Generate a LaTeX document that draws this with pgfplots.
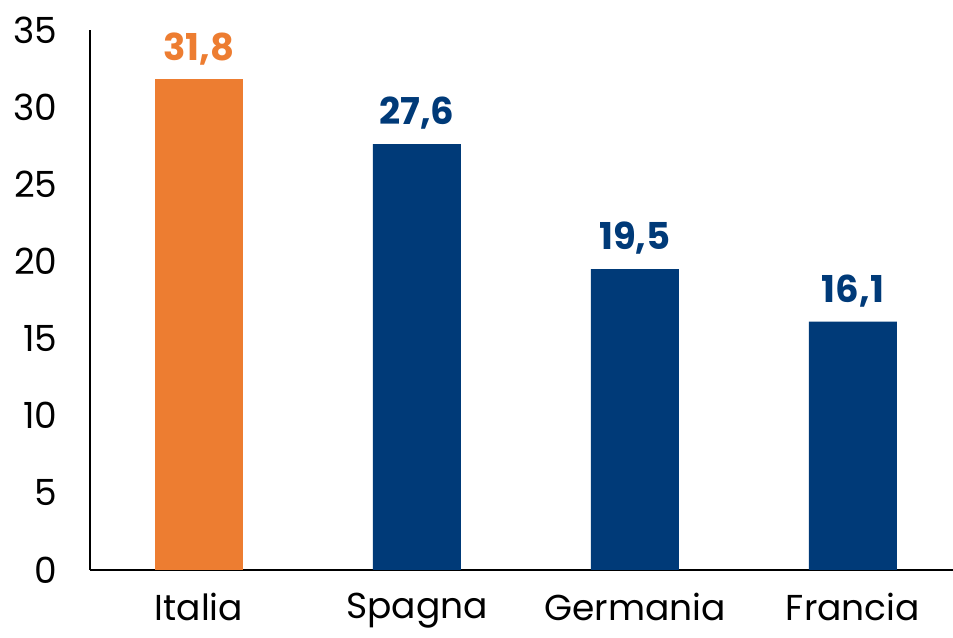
\documentclass[border=0pt]{standalone}
\usepackage{pgfplots}
\pgfplotsset{compat=1.18}
\usepackage{fontspec}
\setmainfont{Poppins}
\definecolor{ora}{HTML}{ED7D31}
\definecolor{blu}{HTML}{003A78}
\begin{document}
\begin{tikzpicture}
\begin{axis}[
  scale only axis, width=863pt, height=540pt,
  xmin=-0.5, xmax=3.459, ymin=0, ymax=35,
  axis x line*=bottom, axis y line*=left,
  axis line style={line width=1.6pt, black},
  xtick={0,1,2,3}, xticklabels={Italia,Spagna,Germania,Francia},
  ytick={0,5,...,35},
  major tick length=0pt,
  /pgf/number format/assume math mode=true,
  tick label style={font=\fontsize{36}{36}\selectfont},
  y tick label style={xshift=-29pt},
  x tick label style={yshift=-22pt, inner sep=1pt},
  ybar, bar width=88pt, bar shift=0pt,
  nodes near coords={\pgfmathprintnumber[fixed,fixed zerofill,precision=1,use comma]{\pgfplotspointmeta}},
  nodes near coords style={font=\bfseries\fontsize{37}{37}\selectfont, yshift=11pt},
  clip=false,
]
\addplot[fill=ora, draw=none, nodes near coords style={text=ora}] coordinates {(0,31.8)};
\addplot[fill=blu, draw=none, nodes near coords style={text=blu}] coordinates {(1,27.6) (2,19.5) (3,16.1)};
\end{axis}
\pgfresetboundingbox
\path[use as bounding box] ([xshift=-90pt,yshift=-68pt]current axis.south west) rectangle ([yshift=30pt]current axis.north east);
\end{tikzpicture}
\end{document}
